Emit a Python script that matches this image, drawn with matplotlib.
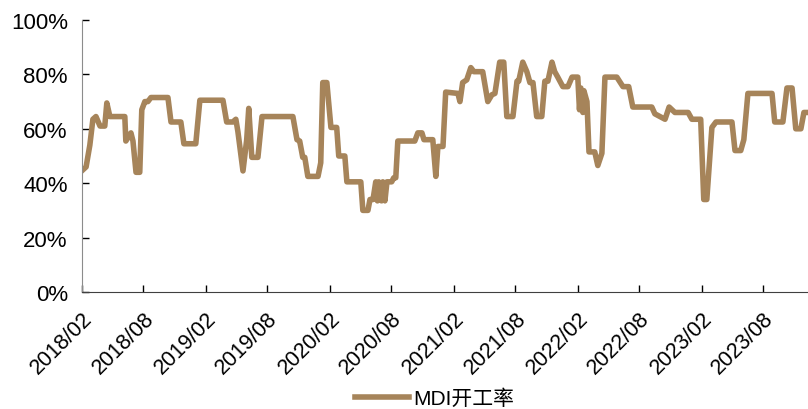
import matplotlib
matplotlib.use("Agg")
import matplotlib.pyplot as plt
import matplotlib.dates as mdates
from matplotlib.ticker import PercentFormatter
import pandas as pd

plt.rcParams['font.family'] = ['Liberation Sans', 'Noto Sans CJK SC', 'DejaVu Sans']

# MDI 开工率 (%), 周度
dates = [
    "2018-02-01", "2018-02-14", "2018-02-25", "2018-03-06", "2018-03-15", "2018-03-27",
    "2018-04-10", "2018-04-16", "2018-04-25", "2018-06-08", "2018-06-11", "2018-06-26",
    "2018-07-02", "2018-07-11", "2018-07-22", "2018-07-28", "2018-08-06", "2018-08-15",
    "2018-08-24", "2018-10-13", "2018-10-22", "2018-11-20", "2018-11-29", "2019-01-03",
    "2019-01-15", "2019-03-24", "2019-04-04", "2019-04-22", "2019-05-01", "2019-05-07",
    "2019-05-22", "2019-06-02", "2019-06-08", "2019-06-17", "2019-07-05", "2019-07-17",
    "2019-10-16", "2019-10-28", "2019-11-05", "2019-11-14", "2019-11-20", "2019-11-29",
    "2019-12-29", "2020-01-06", "2020-01-12", "2020-01-24", "2020-02-05", "2020-02-22",
    "2020-02-28", "2020-03-17", "2020-03-23", "2020-05-03", "2020-05-09", "2020-05-24",
    "2020-05-30", "2020-06-08", "2020-06-16", "2020-06-21", "2020-06-25", "2020-07-03",
    "2020-07-07", "2020-07-13", "2020-07-19", "2020-08-02", "2020-08-08", "2020-08-14",
    "2020-08-20", "2020-10-09", "2020-10-18", "2020-10-30", "2020-11-05", "2020-12-01",
    "2020-12-10", "2020-12-16", "2020-12-31", "2021-01-08", "2021-02-13", "2021-02-19",
    "2021-02-27", "2021-03-11", "2021-03-23", "2021-04-01", "2021-04-27", "2021-05-12",
    "2021-05-24", "2021-06-02", "2021-06-16", "2021-06-28", "2021-07-07", "2021-07-25",
    "2021-08-06", "2021-08-11", "2021-08-23", "2021-09-04", "2021-09-13", "2021-09-22",
    "2021-10-03", "2021-10-18", "2021-10-27", "2021-11-05", "2021-11-17", "2021-11-25",
    "2021-12-04", "2021-12-19", "2022-01-03", "2022-01-15", "2022-02-01", "2022-02-06",
    "2022-02-10", "2022-02-16", "2022-02-19", "2022-02-28", "2022-03-06", "2022-03-23",
    "2022-04-01", "2022-04-13", "2022-04-22", "2022-05-27", "2022-06-14", "2022-07-01",
    "2022-07-13", "2022-09-07", "2022-09-16", "2022-10-01", "2022-10-16", "2022-10-28",
    "2022-11-14", "2022-12-23", "2023-01-03", "2023-01-29", "2023-02-07", "2023-02-16",
    "2023-03-03", "2023-03-15", "2023-05-01", "2023-05-10", "2023-05-27", "2023-06-05",
    "2023-06-17", "2023-08-27", "2023-09-04", "2023-09-28", "2023-10-10", "2023-10-25",
    "2023-11-05", "2023-11-20", "2023-11-29", "2023-12-11",
]
rate = [
    44.5, 46, 54, 63.5, 64.5, 61,
    61, 69.5, 64.5, 64.5, 55.5, 58.5,
    55.5, 44, 44, 67, 70, 70,
    71.5, 71.5, 62.5, 62.5, 54.5, 54.5,
    70.5, 70.5, 62.5, 62.5, 63.5, 59,
    44.5, 56, 67.5, 49.5, 49.5, 64.5,
    64.5, 56, 55.5, 49.5, 49.5, 42.5,
    42.5, 47.5, 77, 77, 60.5, 60.5,
    50, 50, 40.5, 40.5, 30, 30,
    34, 34, 40.5, 33.5, 40.5, 33.5,
    40.5, 33.5, 40.5, 40.5, 42, 42,
    55.5, 55.5, 58.5, 58.5, 56, 56,
    42.5, 53.5, 53.5, 73.5, 73, 70,
    77, 78, 82.5, 81, 81, 70,
    72.5, 73, 84.5, 84.5, 64.5, 64.5,
    77.5, 77.5, 84.5, 81, 77, 77,
    64.5, 64.5, 77.5, 77.5, 84.5, 81,
    79, 75.5, 75.5, 79, 79, 67,
    75, 66, 74, 70, 51.5, 51.5,
    46.5, 51, 79, 79, 75.5, 75.5,
    68, 68, 65.5, 64.5, 63.5, 68,
    66, 66, 63.5, 63.5, 34, 34,
    60.5, 62.5, 62.5, 52, 52, 56,
    73, 73, 62.5, 62.5, 75, 75,
    60, 60, 66, 66,
]
tick_dates = pd.date_range("2018-02-01", "2023-08-01", freq="6MS")

x = pd.to_datetime(dates)
y = [v / 100 for v in rate]

fig = plt.figure(figsize=(8.08, 4.10), dpi=100)
ax = fig.add_axes([0.1011, 0.2854, 0.8989, 0.6634])

line, = ax.plot(x, y, color='#A6845A', linewidth=4.0, solid_joinstyle='round',
                label='MDI开工率')

ax.set_xlim(pd.Timestamp("2018-02-01"), pd.Timestamp("2023-12-11"))
ax.set_ylim(0, 1)
ax.yaxis.set_major_formatter(PercentFormatter(1.0, decimals=0))
ax.set_yticks([0, 0.2, 0.4, 0.6, 0.8, 1.0])
ax.set_xticks(tick_dates)
ax.xaxis.set_major_formatter(mdates.DateFormatter('%Y/%m'))

for s in ['top', 'right']:
    ax.spines[s].set_visible(False)
ax.spines['left'].set_color('#8c8c8c')
ax.spines['bottom'].set_color('#404040')
ax.tick_params(axis='both', direction='in', length=5, width=1, colors='black')
ax.tick_params(axis='y', pad=10, labelsize=16)
ax.tick_params(axis='x', pad=11, labelsize=15.5)
for lab in ax.get_xticklabels():
    lab.set_rotation(45)
    lab.set_ha('right')
    lab.set_va('top')
    lab.set_rotation_mode('anchor')

# legend centred just above the bottom edge
fig.legend(handles=[line], loc='center', bbox_to_anchor=(0.538, 0.026),
           frameon=False, fontsize=15, handlelength=2.6, handletextpad=0.2,
           borderpad=0.1)

fig.savefig('out.png', dpi=100)
